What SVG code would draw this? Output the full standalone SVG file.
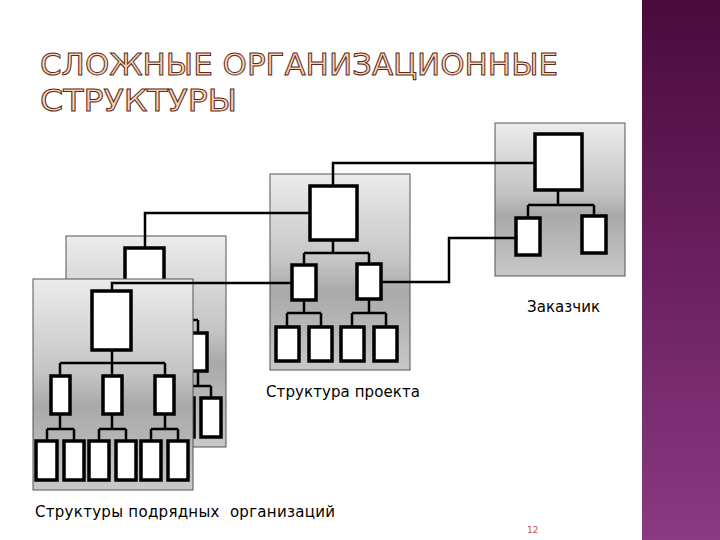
<svg xmlns="http://www.w3.org/2000/svg" width="720" height="540" viewBox="0 0 720 540">
<defs>
<linearGradient id="pg" x1="0" y1="0" x2="0" y2="1">
<stop offset="0" stop-color="#ececec"/><stop offset="0.45" stop-color="#c4c4c4"/><stop offset="0.6" stop-color="#a9a9a9"/><stop offset="1" stop-color="#c8c8c8"/>
</linearGradient>
<linearGradient id="side" x1="0" y1="0" x2="0" y2="1">
<stop offset="0" stop-color="#4a0b3c"/><stop offset="0.5" stop-color="#6a2060"/><stop offset="1" stop-color="#8a3a80"/>
</linearGradient>
</defs>
<style>
.panel{fill:url(#pg);stroke:#555;stroke-width:1}
.b{fill:#fff;stroke:#000;stroke-width:3.5}
.l{fill:none;stroke:#000;stroke-width:2.5}
.t{font-family:"DejaVu Sans",sans-serif;font-size:15px;fill:#000}
.title{font-family:"DejaVu Sans",sans-serif;font-size:31px;fill:#fbd3b4;stroke:#5a2a1a;stroke-width:1}
</style>
<rect width="720" height="540" fill="#fff"/>
<rect x="642" y="0" width="78" height="540" fill="url(#side)"/>
<text class="title" x="40" y="75" textLength="518" lengthAdjust="spacingAndGlyphs">СЛОЖНЫЕ ОРГАНИЗАЦИОННЫЕ</text>
<text class="title" x="40" y="111" textLength="197" lengthAdjust="spacingAndGlyphs">СТРУКТУРЫ</text>

<g id="contractor-back" transform="translate(33,-43)">
<rect class="panel" x="33" y="279" width="160" height="211"/>
<path class="l" d="M112 350V363M60 363H165M60 363V376M112 363V376M165 363V376M60 414V429M47 429H74M47 429V441M74 429V441M112 414V429M99 429H126M99 429V441M126 429V441M165 414V429M151 429H178M151 429V441M178 429V441"/>
<rect class="b" x="92" y="291" width="39" height="59"/>
<rect class="b" x="51" y="376" width="19" height="38"/><rect class="b" x="103" y="376" width="19" height="38"/><rect class="b" x="155" y="376" width="19" height="38"/>
<rect class="b" x="36" y="441" width="21" height="39"/><rect class="b" x="64" y="441" width="20" height="39"/><rect class="b" x="89" y="441" width="20" height="39"/><rect class="b" x="116" y="441" width="20" height="39"/><rect class="b" x="141" y="441" width="20" height="39"/><rect class="b" x="168" y="441" width="20" height="39"/>
</g>

<g id="customer">
<rect class="panel" x="495" y="123" width="130" height="153"/>
<path class="l" d="M558 190V205M528 205H594M528 205V218M594 205V216"/>
<rect class="b" x="535" y="134" width="47" height="56"/>
<rect class="b" x="516" y="218" width="24" height="37"/>
<rect class="b" x="582" y="216" width="24" height="37"/>
</g>

<g id="project">
<rect class="panel" x="270" y="174" width="140" height="196"/>
<path class="l" d="M333 240V253M304 253H369M304 253V265M369 253V264M304 300V313M287 313H321M287 313V327M321 313V327M369 299V313M352 313H386M352 313V327M386 313V327"/>
<rect class="b" x="310" y="186" width="47" height="54"/>
<rect class="b" x="292" y="265" width="24" height="35"/>
<rect class="b" x="357" y="264" width="24" height="35"/>
<rect class="b" x="276" y="327" width="23" height="34"/><rect class="b" x="309" y="327" width="23" height="34"/><rect class="b" x="341" y="327" width="23" height="34"/><rect class="b" x="374" y="327" width="23" height="34"/>
</g>

<g id="connectors-back">
<path class="l" d="M145 248V213H310"/>
</g>

<g id="contractor-front">
<rect class="panel" x="33" y="279" width="160" height="211"/>
<path class="l" d="M112 350V363M60 363H165M60 363V376M112 363V376M165 363V376M60 414V429M47 429H74M47 429V441M74 429V441M112 414V429M99 429H126M99 429V441M126 429V441M165 414V429M151 429H178M151 429V441M178 429V441"/>
<rect class="b" x="92" y="291" width="39" height="59"/>
<rect class="b" x="51" y="376" width="19" height="38"/><rect class="b" x="103" y="376" width="19" height="38"/><rect class="b" x="155" y="376" width="19" height="38"/>
<rect class="b" x="36" y="441" width="21" height="39"/><rect class="b" x="64" y="441" width="20" height="39"/><rect class="b" x="89" y="441" width="20" height="39"/><rect class="b" x="116" y="441" width="20" height="39"/><rect class="b" x="141" y="441" width="20" height="39"/><rect class="b" x="168" y="441" width="20" height="39"/>
</g>

<g id="connectors">
<path class="l" d="M112 291V283H292"/>
<path class="l" d="M333 186V163H535"/>
<path class="l" d="M381 282H449V238H516"/>
</g>

<text class="t" x="527" y="312" textLength="73">Заказчик</text>
<text class="t" x="266" y="397" textLength="154">Структура проекта</text>
<text class="t" x="35" y="517" textLength="300" xml:space="preserve">Структуры подрядных  организаций</text>
<text x="527" y="533" style="font-family:'DejaVu Sans',sans-serif;font-size:9px;fill:#c0504d">12</text>
</svg>
